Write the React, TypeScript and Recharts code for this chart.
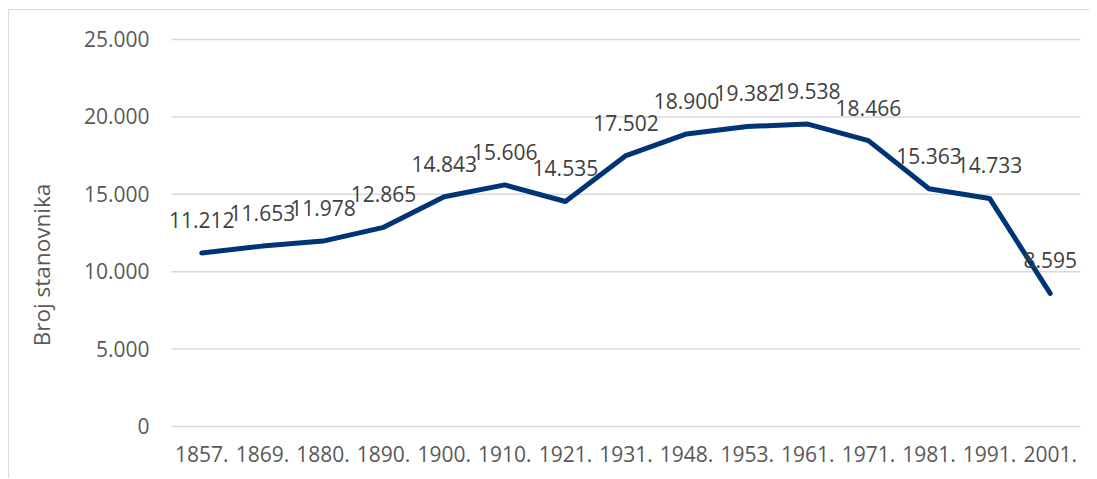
import React from 'react';
import { LineChart, Line, XAxis, YAxis, CartesianGrid, LabelList } from 'recharts';

const years = ['1857.', '1869.', '1880.', '1890.', '1900.', '1910.', '1921.', '1931.', '1948.', '1953.', '1961.', '1971.', '1981.', '1991.', '2001.'];
const population = [11212, 11653, 11978, 12865, 14843, 15606, 14535, 17502, 18900, 19382, 19538, 18466, 15363, 14733, 8595];
const yTicks = [0, 5000, 10000, 15000, 20000, 25000];

const data = years.map((y, i) => ({ year: y, value: population[i] }));

const fmt = (v: number) => {
  const s = Math.round(v).toString();
  return s.replace(/\B(?=(\d{3})+(?!\d))/g, '.');
};

const FONT = '"Open Sans", sans-serif';

const YLabel = (props: any) => {
  const vb = props.viewBox || {};
  const x = vb.x + 20;
  const y = vb.y + vb.height / 2 + 32;
  return (
    <text
      x={x}
      y={y}
      transform={`rotate(-90, ${x}, ${y})`}
      textAnchor="middle"
      dominantBaseline="central"
      fill="#595959"
      style={{ fontSize: 22.5, fontFamily: FONT }}
    >
      Broj stanovnika
    </text>
  );
};

export default function App() {
  return (
    <div style={{ position: 'relative', top: 1, width: 1089, height: 470, overflow: 'hidden' }}>
      <div style={{ width: 1300, height: 600, border: '1.5px solid #d9d9d9', boxSizing: 'border-box' }}>
        <LineChart
          width={1080}
          height={460}
          data={data}
          margin={{ top: 29.5, right: 8.5, bottom: 13.5, left: 12.5 }}
        >
          <CartesianGrid horizontal vertical={false} stroke="#d9d9d9" strokeWidth={1.5} />
          <XAxis
            dataKey="year"
            interval={0}
            axisLine={false}
            tickLine={false}
            tickMargin={15}
            padding={{ left: 30.3, right: 30.3 }}
            tick={{ fill: '#595959', fontSize: 21, fontFamily: FONT }}
          />
          <YAxis
            width={150}
            domain={[0, 25000]}
            ticks={yTicks}
            interval={0}
            axisLine={false}
            tickLine={false}
            tickMargin={16}
            tickFormatter={fmt}
            tick={{ fill: '#595959', fontSize: 21, fontFamily: FONT }}
            label={{ content: <YLabel /> }}
          />
          <Line
            type="linear"
            dataKey="value"
            stroke="#003478"
            strokeWidth={5}
            strokeLinejoin="round"
            strokeLinecap="round"
            dot={false}
            activeDot={false}
            isAnimationActive={false}
          >
            <LabelList
              dataKey="value"
              position="top"
              offset={25}
              formatter={(v: any) => fmt(Number(v))}
              fill="#404040"
              fontSize={21}
              fontFamily={FONT}
            />
          </Line>
        </LineChart>
      </div>
    </div>
  );
}
